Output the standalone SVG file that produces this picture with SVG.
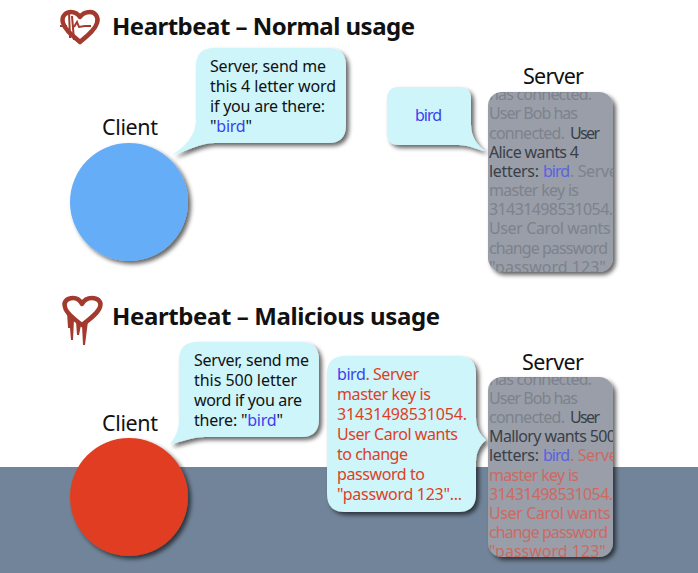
<svg xmlns="http://www.w3.org/2000/svg" width="698" height="573" viewBox="0 0 698 573">
<style>
text{font-family:"Noto Sans","Open Sans","Liberation Sans",sans-serif;fill:#111}
.t{font-size:24px;font-weight:700}
.l{font-size:21.5px}
.b{font-size:16px}
.blue{fill:#3b3ff0}
.red{fill:#e03e22}
.bub{fill:#cdf5fa;filter:url(#sh)}
.srv{fill:#999ea8;filter:url(#sh)}
.dim{font-size:16px;fill:#7d828c}
.dk{font-size:16px;fill:#3a3f48}
.db{fill:#5a62e0}
.dr{font-size:16px;fill:#cc6a62}
.hrt{fill:none;stroke:#a33a2e;stroke-width:4.5;stroke-linejoin:round}
.drip{fill:#a33a2e}
</style>
<defs>
<filter id="sh" x="-20%" y="-20%" width="140%" height="140%"><feDropShadow dx="3" dy="3" stdDeviation="2" flood-color="#000" flood-opacity=".6"/></filter>
<clipPath id="c1"><rect x="488" y="92" width="125" height="180" rx="14"/></clipPath>
<clipPath id="c2"><rect x="488" y="377" width="125" height="180" rx="14"/></clipPath>
</defs>
<rect id="bg" x="0" y="467" width="698" height="106" fill="#718499"/>
<g id="heart1"><path class="hrt" d="M80 42C73 36 65 30 63 23C61 16 66 12 71 12C75 12 78 14 80 17C82 14 86 12 90 12C95 12 99 17 97 23C95 30 87 36 80 42Z"/><path d="M60 26H67M69 12L70 38M72 16L74 40M74 27L77 22L79 27L85 26H91" fill="none" stroke="#a33a2e" stroke-width="2"/></g>
<g id="title1"><text class="t" x="112" y="35" textLength="303">Heartbeat – Normal usage</text></g>
<g id="client1"><text class="l" x="102" y="135" textLength="56">Client</text><circle cx="129" cy="202" r="59" fill="#66adf7" filter="url(#sh)"/></g>
<g id="bubble1"><path class="bub" d="M214 48H328Q346 48 346 66V125Q346 143 328 143H215C200 143 190 150 172 155C185 147 196 135 196 120V66Q196 48 214 48Z"/>
<text class="b" x="210" y="72" textLength="116">Server, send me</text>
<text class="b" x="210" y="92" textLength="126">this 4 letter word</text>
<text class="b" x="210" y="112" textLength="115">if you are there:</text>
<text class="b" x="210" y="132" textLength="42">"<tspan class="blue">bird</tspan>"</text></g>
<g id="bubble2"><path class="bub" d="M399 87H459Q471 87 471 99V125C471 137 478 146 485 151C475 149 468 145 459 145H399Q387 145 387 133V99Q387 87 399 87Z"/>
<text class="b blue" x="415" y="121" textLength="27">bird</text></g>
<g id="server1"><text class="l" x="523" y="84" textLength="61">Server</text>
<rect class="srv" x="488" y="92" width="125" height="180" rx="14"/>
<g clip-path="url(#c1)">
<text class="dim" x="489" y="100" textLength="103">has connected.</text>
<text class="dim" x="489" y="119" textLength="89">User Bob has</text>
<text class="dim" x="489" y="139" textLength="76">connected.</text><text class="dk" x="570" y="139" textLength="30">User</text>
<text class="dk" x="489" y="158" textLength="90">Alice wants 4</text>
<text class="dk" x="489" y="177" textLength="50">letters:</text><text class="dk db" x="543" y="177" textLength="27">bird</text><text class="dim" x="570" y="177" textLength="54">. Server</text>
<text class="dim" x="489" y="196" textLength="90">master key is</text>
<text class="dim" x="489" y="215" textLength="124">31431498531054.</text>
<text class="dim" x="489" y="234" textLength="140">User Carol wants to</text>
<text class="dim" x="489" y="254" textLength="119">change password</text>
<text class="dim" x="489" y="273" textLength="135">"password 123". P</text>
</g></g>
<g id="heart2"><path class="hrt" d="M82 325C74 319 66 313 65 307C63 301 68 298 73 298C77 298 80 300 82 304C84 300 88 298 92 298C97 298 102 301 100 307C98 313 90 319 82 325Z"/><path class="drip" d="M67 312L74 319L73 340H71L70 328H68ZM76 321L81 325L79 335H77ZM82 325L88 321L85 345H83Z"/></g>
<g id="title2"><text class="t" x="112" y="325" textLength="328">Heartbeat – Malicious usage</text></g>
<g id="client2"><text class="l" x="102" y="431" textLength="56">Client</text><circle cx="129" cy="497" r="59" fill="#e03e22" filter="url(#sh)"/></g>
<g id="bubble3"><path class="bub" d="M197 342H301Q319 342 319 360V419Q319 437 301 437H205C192 437 182 442 170 444C175 438 179 430 179 420V360Q179 342 197 342Z"/>
<text class="b" x="194" y="366" textLength="115">Server, send me</text>
<text class="b" x="194" y="386" textLength="103">this 500 letter</text>
<text class="b" x="194" y="406" textLength="108">word if you are</text>
<text class="b" x="194" y="426" textLength="89">there: "<tspan class="blue">bird</tspan>"</text></g>
<g id="bubble4"><path class="bub" d="M345 356H458Q476 356 476 374V418C476 428 480 435 486 440C480 445 476 452 476 462V494Q476 512 458 512H345Q327 512 327 494V374Q327 356 345 356Z"/>
<text class="b red" x="337" y="380" textLength="82"><tspan class="blue">bird</tspan>. Server</text>
<text class="b red" x="337" y="400" textLength="94">master key is</text>
<text class="b red" x="337" y="420" textLength="130">31431498531054.</text>
<text class="b red" x="337" y="440" textLength="121">User Carol wants</text>
<text class="b red" x="337" y="460" textLength="71">to change</text>
<text class="b red" x="337" y="480" textLength="88">password to</text>
<text class="b red" x="337" y="500" textLength="125">"password 123"...</text></g>
<g id="server2"><text class="l" x="522" y="370" textLength="62">Server</text>
<rect class="srv" x="488" y="377" width="125" height="180" rx="14"/>
<g clip-path="url(#c2)">
<text class="dim" x="489" y="385" textLength="103">has connected.</text>
<text class="dim" x="489" y="404" textLength="89">User Bob has</text>
<text class="dim" x="489" y="423" textLength="76">connected.</text><text class="dk" x="570" y="423" textLength="30">User</text>
<text class="dk" x="489" y="442" textLength="127">Mallory wants 500</text>
<text class="dk" x="489" y="461" textLength="50">letters:</text><text class="dk db" x="543" y="461" textLength="27">bird</text><text class="dr" x="570" y="461" textLength="54">. Server</text>
<text class="dr" x="489" y="481" textLength="90">master key is</text>
<text class="dr" x="489" y="500" textLength="124">31431498531054.</text>
<text class="dr" x="489" y="519" textLength="140">User Carol wants to</text>
<text class="dr" x="489" y="538" textLength="119">change password</text>
<text class="dr" x="489" y="557" textLength="135">"password 123". P</text>
</g></g>
</svg>
